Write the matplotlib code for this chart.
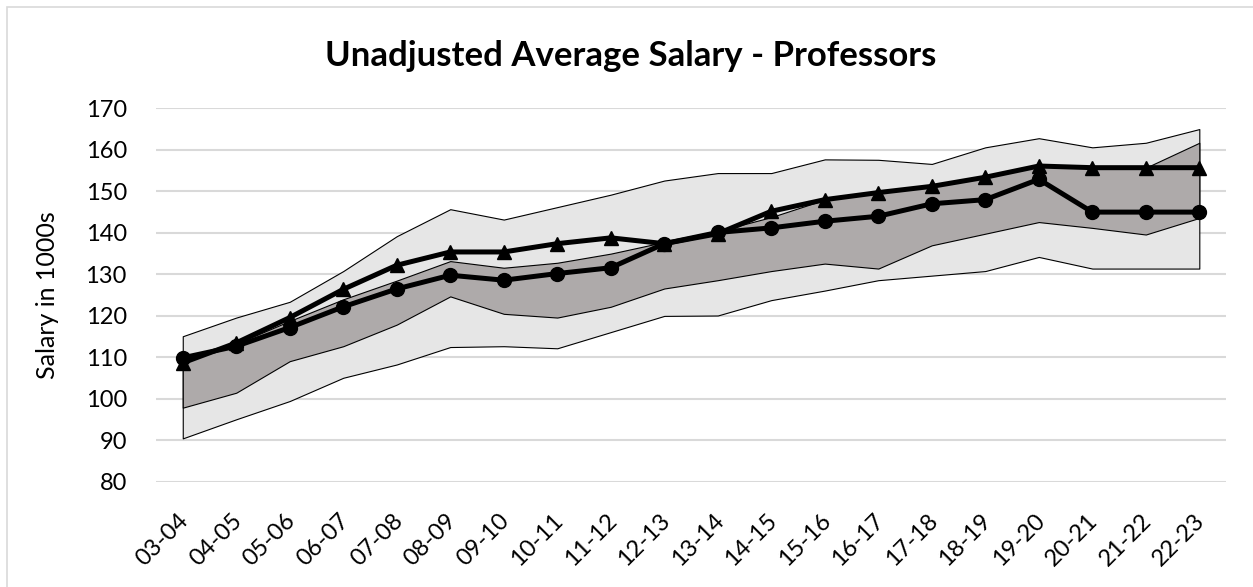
import matplotlib
matplotlib.use("Agg")
import matplotlib.pyplot as plt
from matplotlib.patches import Rectangle
from matplotlib.transforms import ScaledTranslation

# academic years on the x axis
years = ["03-04", "04-05", "05-06", "06-07", "07-08", "08-09", "09-10", "10-11",
         "11-12", "12-13", "13-14", "14-15", "15-16", "16-17", "17-18", "18-19",
         "19-20", "20-21", "21-22", "22-23"]

# outer band (min / max of comparison group)
band_max = [115.1, 119.6, 123.4, 130.8, 139.2, 145.7, 143.2, 146.2, 149.2, 152.6,
            154.4, 154.4, 157.7, 157.6, 156.6, 160.6, 162.8, 160.6, 161.7, 165.0]
band_min = [90.5, 95.1, 99.5, 105.1, 108.3, 112.5, 112.7, 112.2, 116.1, 120.0,
            120.1, 123.8, 126.1, 128.6, 129.7, 130.8, 134.2, 131.4, 131.4, 131.4]

# inner band (quartiles)
band_q3 = [109.8, 113.3, 118.8, 124.0, 128.5, 133.2, 131.6, 132.8, 135.0, 137.8,
           140.4, 143.8, 148.0, 149.7, 151.2, 153.4, 156.1, 155.7, 155.7, 161.7]
band_q1 = [97.9, 101.5, 109.1, 112.7, 117.9, 124.7, 120.5, 119.6, 122.2, 126.6,
           128.6, 130.8, 132.6, 131.4, 137.0, 139.8, 142.6, 141.2, 139.6, 143.6]

# the two salary lines
salary_circle = [109.9, 112.7, 117.2, 122.2, 126.5, 129.8, 128.6, 130.2, 131.6, 137.4,
                 140.1, 141.2, 142.8, 144.0, 147.0, 148.0, 152.9, 145.0, 145.0, 145.0]
salary_triangle = [108.7, 113.5, 119.6, 126.4, 132.2, 135.4, 135.4, 137.4, 138.8, 137.4,
                   139.8, 145.2, 148.0, 149.7, 151.2, 153.4, 156.1, 155.7, 155.7, 155.7]

plt.rcParams["font.family"] = ["Lato", "DejaVu Sans"]

fig = plt.figure(figsize=(12.53, 5.87), dpi=100)
ax = fig.add_axes([0.1245, 0.1789, 0.854, 0.6366])

x = list(range(len(years)))

# chart-area border like Excel
fig.patches.append(Rectangle((7 / 1253, -0.05), 1.1, (580 / 587) + 0.05,
                             transform=fig.transFigure, fill=False,
                             edgecolor="#d9d9d9", linewidth=1.2, zorder=0))

ax.fill_between(x, band_min, band_max, facecolor="#e6e6e6", edgecolor="black",
                linewidth=0.8, zorder=2)
ax.fill_between(x, band_q1, band_q3, facecolor="#aeaaaa", edgecolor="black",
                linewidth=0.8, zorder=3)

ax.plot(x, salary_triangle, color="black", linewidth=3.6, marker="^",
        markersize=10, zorder=5)
ax.plot(x, salary_circle, color="black", linewidth=3.6, marker="o",
        markersize=10, zorder=6)

ax.set_xlim(-0.5, len(years) - 0.5)
ax.set_ylim(80, 170)
ax.set_yticks(range(80, 171, 10))
ax.set_xticks(x)
ax.set_xticklabels(years, rotation=45, ha="right", va="top",
                   rotation_mode="anchor", fontsize=17)
ax.tick_params(axis="y", labelsize=17, length=0, pad=21)
ax.tick_params(axis="x", length=0, pad=20)
# nudge the slanted labels a bit to the left
shift = ScaledTranslation(-5 / 100, 0, fig.dpi_scale_trans)
for lbl in ax.get_xticklabels():
    lbl.set_transform(lbl.get_transform() + shift)

ax.grid(axis="y", color="#d9d9d9", linewidth=1.5, zorder=0)
ax.set_axisbelow(True)
for s in ax.spines.values():
    s.set_visible(False)

ax.set_ylabel("Salary in 1000s", fontsize=18, labelpad=19)
fig.text(0.503, 0.905, "Unadjusted Average Salary - Professors",
         ha="center", va="center", fontsize=25, fontweight="bold")

fig.savefig("out.png", dpi=100)
plt.close(fig)
